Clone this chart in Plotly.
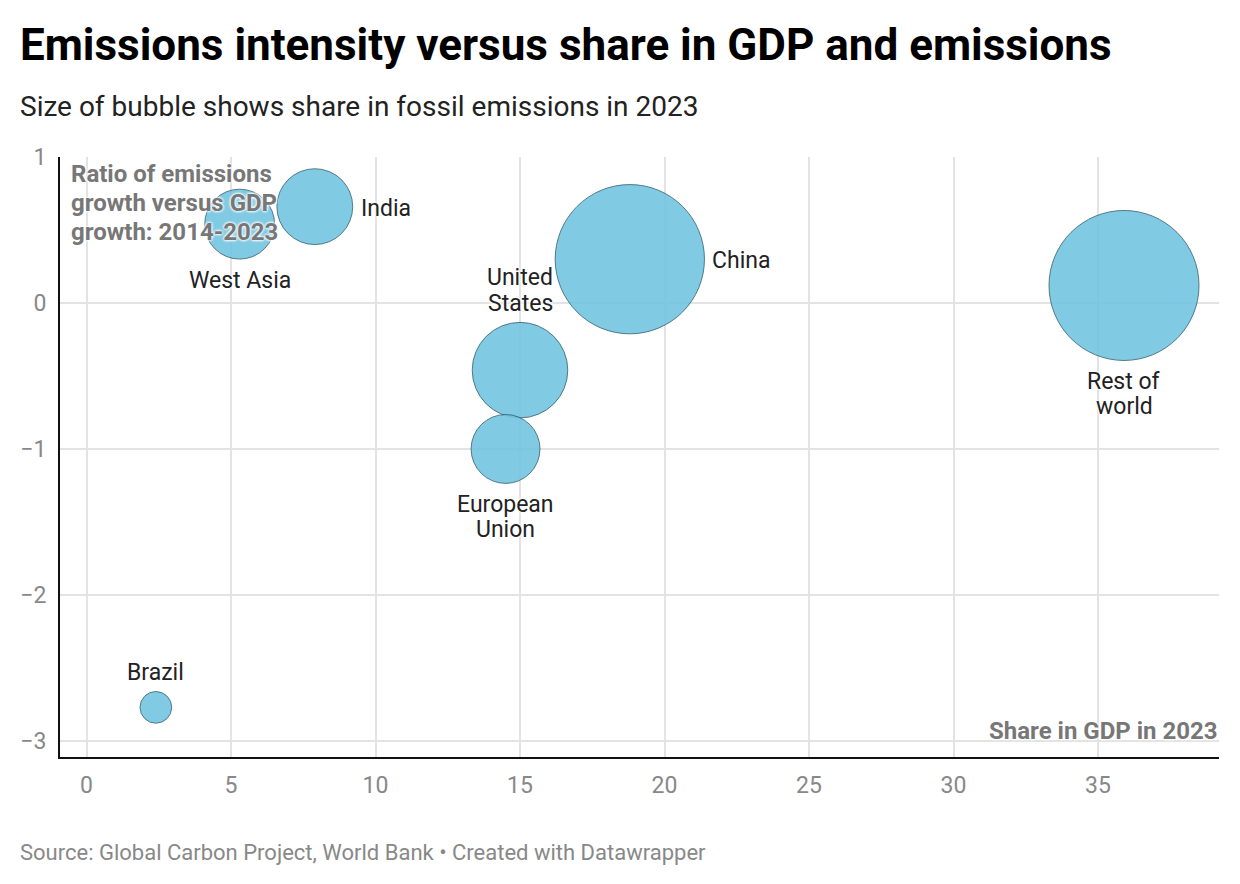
import math
import plotly.graph_objects as go

# ---- data ----
regions = ["Rest of<br>world", "China", "United<br>States", "India",
           "West Asia", "European<br>Union", "Brazil"]
gdp_share_2023 = [35.9, 18.8, 15.0, 7.9, 5.3, 14.5, 2.4]
emissions_vs_gdp_ratio = [0.12, 0.30, -0.46, 0.66, 0.54, -1.00, -2.77]
fossil_emissions_share = [31.3, 31.0, 12.7, 8.0, 6.8, 6.6, 1.4]
label_side = ["bottom", "right", "top", "right", "bottom", "bottom", "top"]

x_ticks = [0, 5, 10, 15, 20, 25, 30, 35]
y_ticks = [1, 0, -1, -2, -3]
y_tick_text = ["1", "0", "\u22121", "\u22122", "\u22123"]

title = "Emissions intensity versus share in GDP and emissions"
subtitle = "Size of bubble shows share in fossil emissions in 2023"
source = "Source: Global Carbon Project, World Bank \u2022 Created with Datawrapper"
y_title_lines = ["Ratio of emissions", "growth versus GDP", "growth: 2014-2023"]
x_title = "Share in GDP in 2023"

# ---- style ----
FONT = "Roboto"
ASC = 0.928
DESC = 0.244
W, H = 1240, 884
L, R, T, B = 60, 21, 157, 127
PW, PH = W - L - R, H - T - B
MAX_R = 75.0
sizeref = max(fossil_emissions_share) / (2 * MAX_R ** 2)
LBL = 23
LBL_LH = 25.5
HALO = "0px 0px 3px white, 0px 0px 3px white, 0px 0px 3px white"


def py(pix):
    return (H - B - pix) / PH


def px(pix):
    return (pix - L) / PW


fig = go.Figure()
fig.add_trace(go.Scatter(
    x=gdp_share_2023, y=emissions_vs_gdp_ratio, mode="markers",
    marker=dict(size=fossil_emissions_share, sizemode="area", sizeref=sizeref,
                color="rgb(116,197,225)", opacity=0.9,
                line=dict(color="#1f4f60", width=0.8)),
    hoverinfo="skip", showlegend=False, cliponaxis=False,
))

annotations = []
for name, x, y, s, side in zip(regions, gdp_share_2023, emissions_vs_gdp_ratio,
                               fossil_emissions_share, label_side):
    r = math.sqrt(s / (2 * sizeref))
    lines = name.split("<br>")
    n = len(lines)
    for k, line in enumerate(lines):
        a = dict(x=x, y=y, xref="x", yref="y", text=line, showarrow=False,
                 borderpad=0, align="center",
                 font=dict(family=FONT, size=LBL, color="#222", shadow=HALO))
        if side == "right":
            a.update(xanchor="left", yanchor="middle", xshift=r + 7, yshift=-1.5)
        elif side == "bottom":
            a.update(xanchor="center", yanchor="top", yshift=-(r + 6.5 + k * LBL_LH))
        else:
            a.update(xanchor="center", yanchor="bottom",
                     yshift=r + 4.4 + (n - 1 - k) * LBL_LH)
        annotations.append(a)

annotations += [
    dict(text="<b>" + title + "</b>",
         xref="paper", yref="paper", x=px(19), y=py(59 - ASC * 44), xanchor="left", yanchor="top",
         showarrow=False, borderpad=0, font=dict(family=FONT, size=44, color="#000")),
    dict(text=subtitle,
         xref="paper", yref="paper", x=px(19), y=py(115 - ASC * 28), xanchor="left", yanchor="top",
         showarrow=False, borderpad=0, font=dict(family=FONT, size=28, color="#222")),
    dict(text=source,
         xref="paper", yref="paper", x=px(19), y=py(859 - ASC * 22), xanchor="left", yanchor="top",
         showarrow=False, borderpad=0, font=dict(family=FONT, size=22, color="#888")),
    dict(text="<b>" + x_title + "</b>",
         xref="paper", yref="paper", x=1, y=py(740 + DESC * 24), xanchor="right", yanchor="bottom",
         showarrow=False, borderpad=0,
         font=dict(family=FONT, size=24, color="#777", shadow=HALO)),
]
for k, line in enumerate(y_title_lines):
    annotations.append(dict(
        text="<b>" + line + "</b>", xref="paper", yref="paper", x=px(70),
        y=py(181 + k * 29.2 - ASC * 24), xanchor="left", yanchor="top",
        showarrow=False, borderpad=0,
        font=dict(family=FONT, size=24, color="#777", shadow=HALO)))

x0 = -26.5 / 28.9
x1 = x0 + PW / 28.9
fig.update_layout(
    width=W, height=H, margin=dict(l=L, r=R, t=T, b=B, autoexpand=False),
    paper_bgcolor="white", plot_bgcolor="white",
    font=dict(family=FONT, size=23, color="#888"),
    annotations=annotations,
    xaxis=dict(range=[x0, x1], tickvals=x_ticks, showgrid=True, gridcolor="#e3e3e3",
               gridwidth=1.5, zeroline=False, showline=True, linecolor="#111", linewidth=2,
               ticks="", ticklabelstandoff=6, tickfont=dict(size=23, color="#888")),
    yaxis=dict(range=[-3.11, 1.0], tickvals=y_ticks, ticktext=y_tick_text,
               showgrid=True, gridcolor="#e3e3e3",
               gridwidth=1.5, zeroline=False, showline=True, linecolor="#111", linewidth=2,
               ticks="", ticklabelstandoff=7, tickfont=dict(size=23, color="#888")),
)

fig.write_html("out.html")
